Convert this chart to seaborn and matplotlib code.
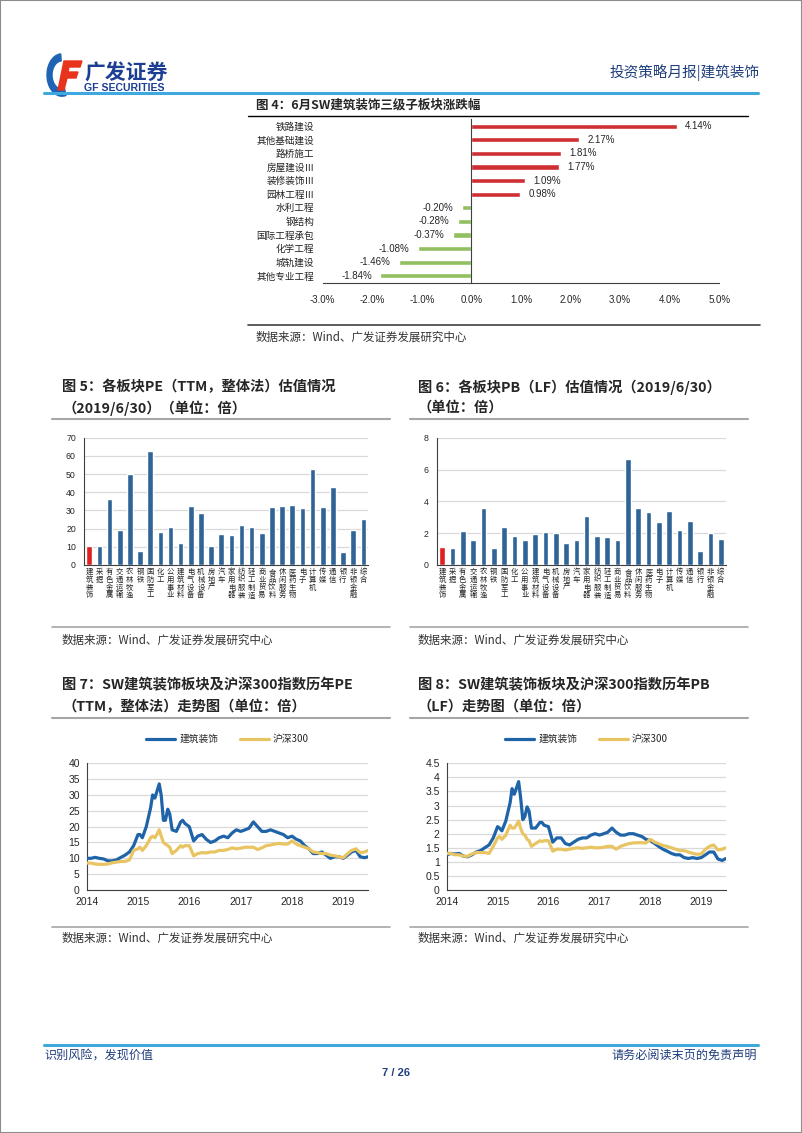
import numpy as np
import pandas as pd
import matplotlib
matplotlib.use("Agg")
import matplotlib.pyplot as plt
import matplotlib.dates as mdates
from matplotlib.patches import Rectangle, Wedge, Polygon
from matplotlib.lines import Line2D
from matplotlib.ticker import FixedLocator
import seaborn as sns

sns.set_theme(style="white")
CJK = ['Noto Sans CJK SC', 'DejaVu Sans']
LAT = ['Liberation Sans', 'Noto Sans CJK SC']
plt.rcParams['font.family'] = CJK
plt.rcParams['axes.unicode_minus'] = False

# ---------------- data ----------------
sub_names = ['铁路建设', '其他基础建设', '路桥施工', '房屋建设Ⅲ', '装修装饰Ⅲ', '园林工程Ⅲ',
             '水利工程', '钢结构', '国际工程承包', '化学工程', '城轨建设', '其他专业工程']
sub_chg = [4.14, 2.17, 1.81, 1.77, 1.09, 0.98, -0.20, -0.28, -0.37, -1.08, -1.46, -1.84]

ind_names = ['建筑装饰', '采掘', '有色金属', '交通运输', '农林牧渔', '钢铁', '国防军工', '化工',
             '公用事业', '建筑材料', '电气设备', '机械设备', '房地产', '汽车', '家用电器', '纺织服装',
             '轻工制造', '商业贸易', '食品饮料', '休闲服务', '医药生物', '电子', '计算机', '传媒',
             '通信', '银行', '非银金融', '综合']
pe_vals = [10.4, 10.4, 36.1, 19.1, 49.8, 7.5, 62.9, 18.1, 21.1, 12.3, 32.3, 28.4, 10.3, 16.9,
           16.3, 22.2, 20.7, 17.8, 31.9, 32.4, 32.8, 31.2, 52.8, 31.7, 42.9, 7.1, 19.1, 25.1]
pb_vals = [1.13, 1.05, 2.14, 1.55, 3.60, 1.05, 2.39, 1.84, 1.59, 1.97, 2.09, 2.03, 1.38, 1.59,
           3.08, 1.80, 1.76, 1.55, 6.64, 3.58, 3.31, 2.70, 3.41, 2.18, 2.76, 0.88, 2.01, 1.61]

dates = ['2014-01-01', '2014-02-01', '2014-03-01', '2014-04-01', '2014-05-01', '2014-06-01',
         '2014-07-01', '2014-08-01', '2014-09-01', '2014-10-01', '2014-11-01', '2014-12-01',
         '2015-01-01', '2015-01-15', '2015-02-01', '2015-03-01', '2015-04-01', '2015-04-15',
         '2015-05-01', '2015-05-15', '2015-06-01', '2015-06-15', '2015-07-01', '2015-07-15',
         '2015-08-01', '2015-08-15', '2015-09-01', '2015-10-01', '2015-11-01', '2015-11-15',
         '2015-12-01',
         '2016-01-01', '2016-02-01', '2016-03-01', '2016-04-01', '2016-05-01', '2016-06-01',
         '2016-07-01', '2016-08-01', '2016-09-01', '2016-10-01', '2016-11-01', '2016-12-01',
         '2017-01-01', '2017-02-01', '2017-03-01', '2017-04-01', '2017-05-01', '2017-06-01',
         '2017-07-01', '2017-08-01', '2017-09-01', '2017-10-01', '2017-11-01', '2017-12-01',
         '2018-01-01', '2018-02-01', '2018-03-01', '2018-04-01', '2018-05-01', '2018-06-01',
         '2018-07-01', '2018-08-01', '2018-09-01', '2018-10-01', '2018-11-01', '2018-12-01',
         '2019-01-01', '2019-02-01', '2019-03-01', '2019-04-01', '2019-05-01', '2019-06-01',
         '2019-06-28']

pe_jz = [10, 10, 10.3, 10, 9.8, 9.2, 9.2, 9.5, 10.3, 11, 12, 14,
         17.5, 17.5, 16.5, 20, 26, 30, 29, 31, 33.5, 30, 22, 22, 25.5, 24, 19, 18.5, 21.5, 22, 21,
         20, 15.5, 17, 17.5, 16, 15, 15.5, 16.5, 17, 16.5, 18, 19,
         18.5, 19, 19.5, 21.5, 20, 18.5, 18.5, 19, 18.5, 18, 17.5, 16.5,
         17, 16, 15.5, 14, 13, 11.5, 11.5, 12, 11, 10, 10.5, 10.5,
         10, 11, 12, 12.5, 10.5, 10.2, 10.5]
pe_hs = [8.5, 8.5, 8.2, 8.1, 8.1, 8.2, 8.6, 8.8, 9, 9, 9.5, 12.5,
         13, 13.5, 12.5, 14, 16.5, 17, 16.5, 17.5, 19, 17, 15, 14.5, 14, 13.5, 11.5, 12.5, 14, 13.5, 14,
         14, 10.8, 11.5, 11.8, 11.7, 12, 12, 12.5, 12.5, 12.8, 13.3, 13,
         13.2, 13.5, 13.5, 13.5, 12.8, 13.3, 14, 14.2, 14.5, 14.7, 14.5, 14.5,
         15.5, 14.5, 14, 13.5, 13, 12, 11.8, 11.5, 11.5, 11, 10.8, 10.5,
         10.2, 11.5, 12.5, 13, 11.8, 12, 12.5]
pb_jz = [1.25, 1.3, 1.28, 1.3, 1.2, 1.18, 1.25, 1.35, 1.4, 1.5, 1.6, 1.85,
         2.25, 2.2, 2.1, 2.45, 3.1, 3.6, 3.4, 3.6, 3.85, 3.3, 2.5, 2.6, 2.95, 2.8, 2.2, 2.2, 2.4, 2.4, 2.3,
         2.25, 1.7, 1.85, 1.85, 1.65, 1.6, 1.7, 1.8, 1.85, 1.85, 1.95, 2.0,
         1.95, 2.0, 2.05, 2.2, 2.05, 1.95, 1.95, 2.0, 2.0, 1.95, 1.9, 1.8,
         1.75, 1.65, 1.55, 1.45, 1.38, 1.3, 1.25, 1.25, 1.15, 1.12, 1.15, 1.12,
         1.15, 1.25, 1.35, 1.35, 1.1, 1.05, 1.12]
pb_hs = [1.3, 1.3, 1.25, 1.25, 1.2, 1.2, 1.28, 1.33, 1.33, 1.33, 1.3, 1.55,
         1.85, 1.9, 1.8, 1.95, 2.3, 2.2, 2.2, 2.3, 2.45, 2.2, 2.0, 1.95, 1.8, 1.75, 1.55, 1.65, 1.75, 1.72, 1.75,
         1.75, 1.38, 1.45, 1.45, 1.42, 1.45, 1.48, 1.5, 1.48, 1.5, 1.52, 1.5,
         1.5, 1.52, 1.55, 1.55, 1.45, 1.55, 1.6, 1.65, 1.67, 1.68, 1.68, 1.67,
         1.8, 1.7, 1.65, 1.58, 1.55, 1.5, 1.45, 1.4, 1.4, 1.35, 1.3, 1.27,
         1.28, 1.45, 1.55, 1.6, 1.42, 1.45, 1.5]
series_names = ['建筑装饰', '沪深300']

# ---------------- helpers ----------------
W, H = 802, 1133
fig = plt.figure(figsize=(W / 100, H / 100), dpi=100)
fig.patch.set_facecolor('white')


def px_axes(x0, y0, x1, y1):
    return fig.add_axes([x0 / W, 1 - y1 / H, (x1 - x0) / W, (y1 - y0) / H])


def ftext(x, y, s, **kw):
    return fig.text(x / W, 1 - y / H, s, **kw)


def hline(x0, x1, y, color, lw):
    fig.add_artist(Line2D([x0 / W, x1 / W], [1 - y / H, 1 - y / H], color=color, lw=lw,
                          transform=fig.transFigure))


NAVY = '#1F3E7C'
BLUE = '#1F64A8'
GOLD = '#E8C462'
GRID = '#D9D9D9'
TICK_FS = 6.3

# ---------------- page frame / header / footer ----------------
fig.add_artist(Rectangle((0, 0), 1, 1, transform=fig.transFigure, fill=False,
                         edgecolor='#8c8c8c', lw=1.5))
# logo
fig.add_artist(Wedge((62 / W, 1 - 75 / H), 15 / W, 95, 285, width=5 / W,
                     transform=fig.transFigure, color='#1E63B4'))
fig.add_artist(Polygon([(64 / W, 1 - 61 / H), (82 / W, 1 - 61 / H), (80 / W, 1 - 67 / H),
                        (69 / W, 1 - 67 / H), (68 / W, 1 - 72 / H), (78 / W, 1 - 72 / H),
                        (76 / W, 1 - 78 / H), (67 / W, 1 - 78 / H), (64 / W, 1 - 90 / H),
                        (58 / W, 1 - 90 / H)], closed=True, transform=fig.transFigure,
                       color='#E8341C'))
ftext(84, 73, '广发证券', fontsize=15, fontweight='bold', color='#1C3F94', va='center', ha='left')
ftext(84, 88, 'GF SECURITIES', fontsize=7.6, fontweight='bold', color='#1C3F94', va='center',
      ha='left', family=LAT)
ftext(760, 73, '投资策略月报|建筑装饰', fontsize=10.5, color=NAVY, va='center', ha='right')
hline(44, 758, 92.5, '#3FA9DF', 2.2)

hline(44, 758, 1045, '#3FA9DF', 2.2)
ftext(44, 1055, '识别风险，发现价值', fontsize=8.7, color=NAVY, va='center', ha='left')
ftext(757, 1055, '请务必阅读末页的免责声明', fontsize=8.7, color=NAVY, va='center', ha='right')
ftext(396, 1073, '7 / 26', fontsize=8, fontweight='bold', color=NAVY, va='center', ha='center',
      family=LAT)

# ---------------- Figure 4 ----------------
ftext(256, 104.5, '图 4：6月SW建筑装饰三级子板块涨跌幅', fontsize=9, fontweight='bold',
      va='center', ha='left')
hline(248, 748, 116, '#000000', 1.0)
hline(248, 760, 325, '#404040', 1.2)
ftext(256, 337, '数据来源：Wind、广发证券发展研究中心', fontsize=8.3, color='#333333',
      va='center', ha='left')

ax4 = px_axes(322.7, 119.3, 719.3, 282.7)
df4 = pd.DataFrame({'name': sub_names, 'chg': sub_chg})
df4['sign'] = np.where(df4['chg'] >= 0, 'pos', 'neg')
sns.barplot(data=df4, y='name', x='chg', hue='sign', orient='h', dodge=False, width=0.38,
            palette={'pos': '#E8141B', 'neg': '#92D050'}, legend=False, ax=ax4)
ax4.set_xlim(-3, 5)
ax4.set_ylim(len(sub_names) - 0.5, -0.5)
ax4.set_xlabel('')
ax4.set_ylabel('')
xt = np.arange(-3, 5.01, 1)
ax4.set_xticks(xt)
ax4.set_xticklabels([f'{v:.1f}%' for v in xt], fontsize=7, family=LAT)
for s in ['top', 'right']:
    ax4.spines[s].set_visible(False)
ax4.spines['left'].set_position(('data', 0))
for s in ['left', 'bottom']:
    ax4.spines[s].set_color('#404040')
    ax4.spines[s].set_linewidth(0.8)
ax4.tick_params(axis='y', length=0, pad=113, labelsize=6.9, labelcolor='#222222')
ax4.yaxis.set_minor_locator(FixedLocator(np.arange(-0.5, len(sub_names), 1)))
ax4.tick_params(axis='y', which='minor', length=3, width=0.6, color='#404040', direction='out')
ax4.tick_params(axis='x', length=3, width=0.6, color='#404040', direction='out', pad=6)
for c in ax4.containers:
    ax4.bar_label(c, fmt='{:.2f}%', padding=6, fontsize=7, family=LAT)

# ---------------- bar charts 5 & 6 ----------------
def bar_chart(ax, vals, ymax, ystep):
    df = pd.DataFrame({'ind': ind_names, 'v': vals,
                       'hl': ['hl'] + ['n'] * (len(ind_names) - 1)})
    sns.barplot(data=df, x='ind', y='v', hue='hl', dodge=False, width=0.55,
                palette={'hl': '#FF0000', 'n': BLUE}, legend=False, ax=ax, zorder=3)
    ax.set_xlim(-0.5, len(ind_names) - 0.5)
    ax.set_ylim(0, ymax)
    yt = np.arange(0, ymax + 0.01, ystep)
    ax.set_yticks(yt)
    ax.set_yticklabels([f'{v:g}' for v in yt], fontsize=TICK_FS, family=LAT)
    ax.set_xticks(range(len(ind_names)))
    ax.set_xticklabels(['\n'.join(n) for n in ind_names], fontsize=5.3, linespacing=0.98,
                       va='top')
    ax.set_xlabel('')
    ax.set_ylabel('')
    ax.grid(axis='y', color=GRID, lw=0.9, zorder=0)
    ax.set_axisbelow(True)
    for s in ['top', 'right']:
        ax.spines[s].set_visible(False)
    for s in ['left', 'bottom']:
        ax.spines[s].set_color('#404040')
        ax.spines[s].set_linewidth(0.8)
    ax.tick_params(axis='x', length=0, pad=2)
    ax.xaxis.set_minor_locator(FixedLocator(np.arange(-0.5, len(ind_names), 1)))
    ax.tick_params(axis='x', which='minor', length=3, width=0.6, color='#404040',
                   direction='out')
    ax.tick_params(axis='y', length=3, width=0.6, color='#404040', direction='out', pad=3)


ftext(62, 387, '图 5：各板块PE（TTM，整体法）估值情况', fontsize=10.3, fontweight='bold',
      va='center', ha='left')
ftext(62, 408, '（2019/6/30）（单位：倍）', fontsize=10.3, fontweight='bold', va='center',
      ha='left')
hline(52, 390, 419, '#A6A6A6', 1.5)
ax5 = px_axes(84.2, 437.7, 368.4, 565)
bar_chart(ax5, pe_vals, 70, 10)
hline(52, 390, 627, '#A6A6A6', 1.2)
ftext(62, 640, '数据来源：Wind、广发证券发展研究中心', fontsize=8.3, color='#333333',
      va='center', ha='left')

ftext(418, 387, '图 6：各板块PB（LF）估值情况（2019/6/30）', fontsize=10.3,
      fontweight='bold', va='center', ha='left')
ftext(418, 408, '（单位：倍）', fontsize=10.3, fontweight='bold', va='center', ha='left')
hline(410, 748, 419, '#A6A6A6', 1.5)
ax6 = px_axes(437.1, 437.7, 725.9, 565)
bar_chart(ax6, pb_vals, 8, 2)
hline(410, 748, 627, '#A6A6A6', 1.2)
ftext(418, 640, '数据来源：Wind、广发证券发展研究中心', fontsize=8.3, color='#333333',
      va='center', ha='left')

# ---------------- line charts 7 & 8 ----------------
def line_chart(ax, s1, s2, ymax, ystep, fmt):
    d = pd.to_datetime(dates)
    df = pd.concat([pd.DataFrame({'date': d, 'v': s1, 's': series_names[0]}),
                    pd.DataFrame({'date': d, 'v': s2, 's': series_names[1]})])
    sns.lineplot(data=df, x='date', y='v', hue='s', palette=[BLUE, GOLD], linewidth=2.3,
                 ax=ax, legend=False, zorder=3)
    ax.set_xlim(pd.Timestamp('2014-01-01'), pd.Timestamp('2019-06-28'))
    ax.set_ylim(0, ymax)
    yt = np.arange(0, ymax + 0.001, ystep)
    ax.set_yticks(yt)
    ax.set_yticklabels([fmt(v) for v in yt], fontsize=7.5, family=LAT)
    yrs = pd.to_datetime(['2014-01-01', '2015-01-01', '2016-01-01', '2017-01-01',
                          '2018-01-01', '2019-01-01'])
    ax.set_xticks(yrs)
    ax.xaxis.set_major_formatter(mdates.DateFormatter('%Y'))
    for lab in ax.get_xticklabels():
        lab.set_fontsize(7.5)
        lab.set_family(LAT)
    ax.set_xlabel('')
    ax.set_ylabel('')
    ax.grid(axis='y', color=GRID, lw=0.9, zorder=0)
    ax.set_axisbelow(True)
    for s in ['top', 'right']:
        ax.spines[s].set_visible(False)
    for s in ['left', 'bottom']:
        ax.spines[s].set_color('#404040')
        ax.spines[s].set_linewidth(0.8)
    ax.tick_params(axis='both', length=3, width=0.6, color='#404040', direction='out', pad=2)
    handles = [Line2D([], [], color=BLUE, lw=2.3), Line2D([], [], color=GOLD, lw=2.3)]
    ax.legend(handles, series_names, loc='center', bbox_to_anchor=(0.5, 1.19), ncol=2,
              frameon=False, fontsize=7, handlelength=3.0, columnspacing=2.2,
              handletextpad=0.4)


ftext(62, 685, '图 7：SW建筑装饰板块及沪深300指数历年PE', fontsize=10.3, fontweight='bold',
      va='center', ha='left')
ftext(62, 706.5, '（TTM，整体法）走势图（单位：倍）', fontsize=10.3, fontweight='bold',
      va='center', ha='left')
hline(52, 390, 717.5, '#A6A6A6', 1.5)
ax7 = px_axes(86.7, 763.3, 368.3, 890)
line_chart(ax7, pe_jz, pe_hs, 40, 5, lambda v: f'{v:g}')
hline(52, 390, 926.7, '#A6A6A6', 1.2)
ftext(62, 938.5, '数据来源：Wind、广发证券发展研究中心', fontsize=8.3, color='#333333',
      va='center', ha='left')

ftext(418, 685, '图 8：SW建筑装饰板块及沪深300指数历年PB', fontsize=10.3, fontweight='bold',
      va='center', ha='left')
ftext(418, 706.5, '（LF）走势图（单位：倍）', fontsize=10.3, fontweight='bold', va='center',
      ha='left')
hline(410, 748, 717.5, '#A6A6A6', 1.5)
ax8 = px_axes(446.7, 763.3, 726, 890)
line_chart(ax8, pb_jz, pb_hs, 4.5, 0.5, lambda v: f'{v:g}')
hline(410, 748, 926.7, '#A6A6A6', 1.2)
ftext(418, 938.5, '数据来源：Wind、广发证券发展研究中心', fontsize=8.3, color='#333333',
      va='center', ha='left')

fig.savefig('out.png', dpi=100, facecolor='white')
